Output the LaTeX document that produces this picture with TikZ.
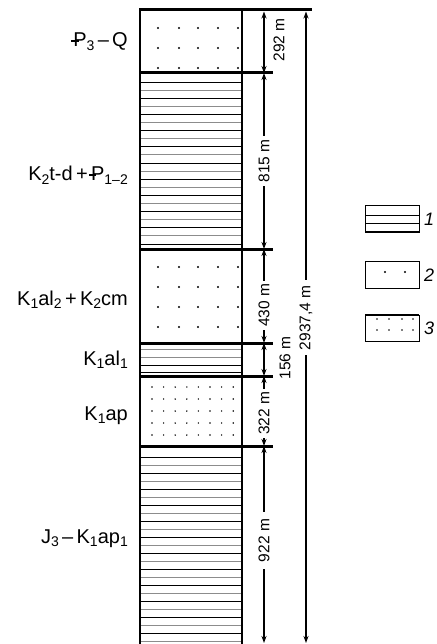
\documentclass[tikz,border=0pt]{standalone}
\usepackage{fontspec}
\setmainfont{Liberation Sans}
\usetikzlibrary{arrows.meta}
\newcommand{\lw}[1]{\raisebox{-0.32ex}{\fontsize{14}{14}\selectfont #1}}
\newcommand{\Pg}{\makebox[0pt][l]{\hspace{-0.1em}\rule[0.26em]{0.36em}{0.065em}}P}
\begin{document}
\begin{tikzpicture}[x=1pt,y=-1pt,
  bnd/.style={line width=3pt},
  hatch/.style={line width=0.9pt},
  dim/.style={line width=1.2pt,{Stealth[length=7pt,width=5pt]}-{Stealth[length=7pt,width=5pt]}},
  dimlbl/.style={rotate=90,font=\fontsize{15.5}{15.5}\selectfont,inner ysep=1pt,inner xsep=3pt,fill=white},
  dimside/.style={rotate=90,font=\fontsize{15.5}{15.5}\selectfont,inner sep=0pt},
  lbl/.style={anchor=base east,inner sep=0pt,font=\fontsize{20}{22}\selectfont},
  leglbl/.style={inner sep=0pt,font=\fontsize{18}{18}\selectfont\itshape},
  legbox/.style={line width=1pt,draw,fill=white}]
\useasboundingbox (0,0) rectangle (436,644);
\fill[white] (0,0) rectangle (436,644);

% hatch lines, layer K2t-d + P1-2
\foreach \i in {0,...,20}{
  \pgfmathsetmacro\yy{82+8.1*\i}
  \ifodd\i \draw[hatch,black!45] (140,\yy) -- (242,\yy);
  \else \draw[hatch,black] (140,\yy) -- (242,\yy); \fi}
% hatch lines, layer K1al1
\foreach \yy/\c in {349/black!45,357/black!45,365/black,372/black}{
  \draw[hatch,\c] (140,\yy) -- (242,\yy);}
% hatch lines, layer J3-K1ap1
\foreach \i in {0,...,23}{
  \pgfmathsetmacro\yy{457+8*\i}
  \ifodd\i \draw[hatch,black!45] (140,\yy) -- (242,\yy);
  \else \draw[hatch,black] (140,\yy) -- (242,\yy); \fi}

% dots, coarse (layer 1 and 3)
\foreach \x in {158,179,198,218,238}{
  \foreach \yy in {28,48,68,267,287,307,327}{
    \fill (\x,\yy) circle (1.15);}}
% dots, fine (K1ap)
\foreach \k in {0,...,7}{
  \pgfmathsetmacro\xx{152+11.6*\k}
  \foreach \yy in {387,399,411,423,435}{
    \fill (\xx,\yy) circle (0.8);}}

% column borders
\draw[line width=2pt] (140,10) -- (140,644);
\draw[line width=2.6pt] (242,10) -- (242,644);
\draw[line width=2.2pt] (140,376) -- (140,446);

% boundaries
\draw[bnd] (139,10) -- (312,10);
\foreach \yy in {73,249,343,376,446}{
  \draw[bnd] (139,\yy) -- (273,\yy);}

% dimension coordinates
\coordinate (d0) at (264,11.5);
\coordinate (d1) at (264,73);
\coordinate (d2) at (264,249);
\coordinate (d3) at (264,343);
\coordinate (d4) at (264,376);
\coordinate (d5) at (264,446);
\coordinate (d6) at (264,643);
\coordinate (t0) at (306,11.5);
\coordinate (t1) at (306,643);

\draw[dim] (d0) -- (d1);
\node[dimside] (l1) at (279,40) {292 m};
\draw[dim] (d1) -- node[dimlbl] (l2) {815 m} (d2);
\draw[dim] (d2) -- node[dimlbl,pos=0.6] (l3) {430 m} (d3);
\draw[dim] (d3) -- (d4);
\node[dimside] (l4) at (285,358) {156 m};
\draw[dim] (d4) -- node[dimlbl,pos=0.53] (l5) {322 m} (d5);
\draw[dim] (d5) -- node[dimlbl,pos=0.48,inner xsep=7pt] (l6) {922 m} (d6);
\draw[dim] (t0) -- node[dimlbl,pos=0.485,inner xsep=5pt] (l7) {2937,4 m} (t1);

% layer labels
\node[lbl] (n1) at (128,47) {\Pg\lw{3}\,–\,Q};
\node[lbl] (n2) at (128,181) {K\lw{2}t-d\,+\,\Pg\lw{1–2}};
\node[lbl] (n3) at (128,305) {K\lw{1}al\lw{2}\,+\,K\lw{2}cm};
\node[lbl] (n4) at (128,365) {K\lw{1}al\lw{1}};
\node[lbl] (n5) at (128,420) {K\lw{1}ap};
\node[lbl] (n6) at (128,543) {J\lw{3}\,–\,K\lw{1}ap\lw{1}};

% legend
\draw[legbox] (365,206) rectangle (419,232);
\draw[line width=0.8pt] (365,215) -- (419,215);
\draw[line width=0.8pt] (365,223) -- (419,223);
\draw[line width=2pt] (365,232) -- (419,232);
\node[leglbl] (g1) at (429,219) {1};

\draw[legbox] (365,261) rectangle (419,288);
\fill (385,272) circle (1.15);
\fill (405,272) circle (1.15);
\node[leglbl] (g2) at (429,275) {2};

\draw[legbox] (365,315) rectangle (419,341);
\draw[line width=2pt] (365,315) -- (419,315);
\foreach \x in {377,389,402,413}{
  \foreach \yy in {319,330}{
    \fill (\x,\yy) circle (0.8);}}
\node[leglbl] (g3) at (429,328) {3};
\end{tikzpicture}
\end{document}
